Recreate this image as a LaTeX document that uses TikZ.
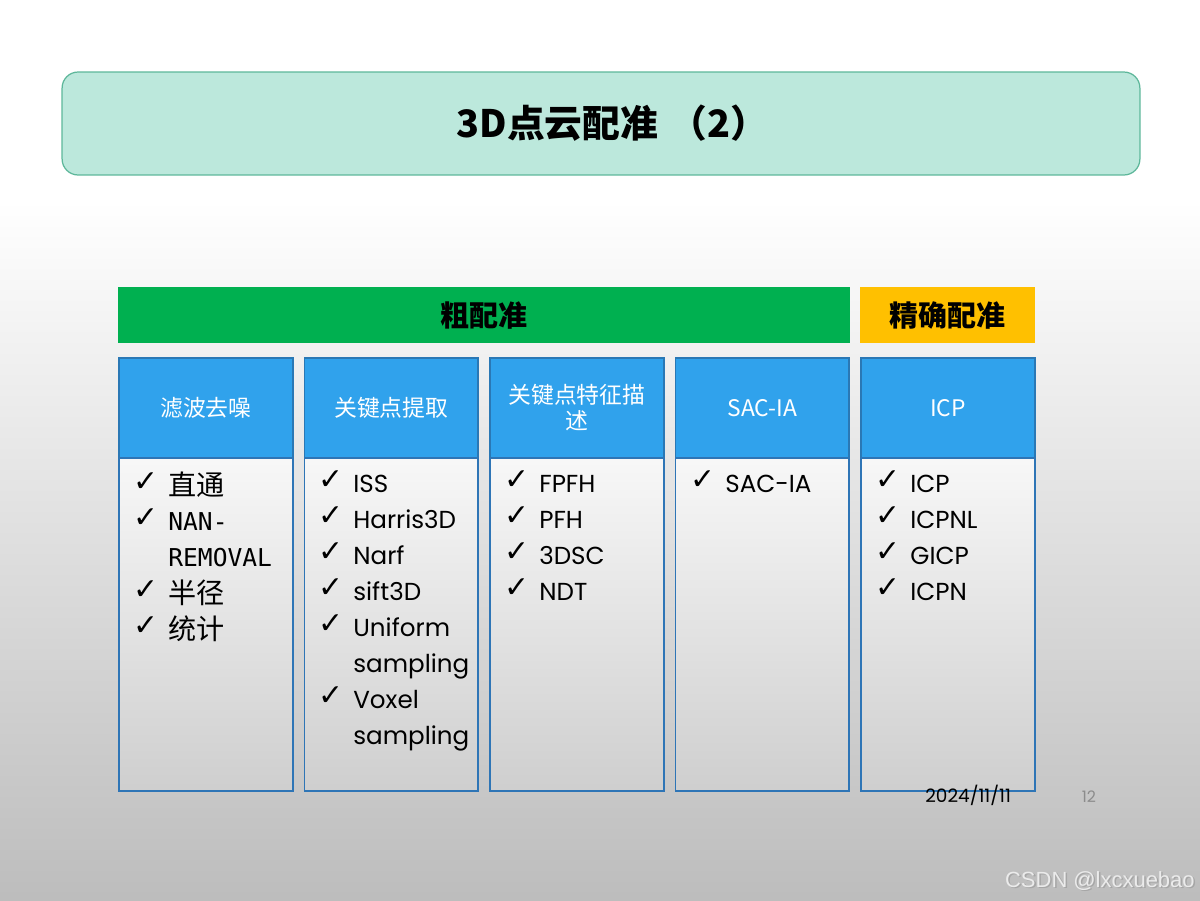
\documentclass[tikz,border=0pt]{standalone}
\usepackage{fontspec}
\setmainfont{Poppins}
\newfontfamily\cjk{Noto Sans CJK SC}
\newfontfamily\symb{DejaVu Sans}
\newfontfamily\mono{DejaVu Sans Mono}
\newfontfamily\lsans{Liberation Sans}
\usetikzlibrary{positioning}
\definecolor{titlefill}{HTML}{BCE8DC}
\definecolor{titledraw}{HTML}{5DB79A}
\definecolor{coarsefill}{HTML}{00B050}
\definecolor{finefill}{HTML}{FFC000}
\definecolor{hdrfill}{HTML}{30A2EC}
\definecolor{hdrdraw}{HTML}{2A78B5}
\definecolor{bodydraw}{HTML}{2E75B6}
\tikzset{
  titlebox/.style={draw=titledraw,fill=titlefill,line width=.7pt,rounded corners=.32cm,
    minimum width=21.56cm,minimum height=2.06cm,font=\cjk\bfseries\fontsize{21.5}{25}\selectfont},
  band/.style={anchor=north west,minimum height=1.12cm,inner sep=0pt,font=\cjk\bfseries\fontsize{16.5}{20}\selectfont},
  hdr/.style={anchor=north west,draw=hdrdraw,fill=hdrfill,line width=1pt,minimum width=3.48cm,
    minimum height=2cm,inner sep=2pt,align=center,text=white,font=\cjk\fontsize{13}{15}\selectfont},
  listbox/.style={anchor=north west,draw=bodydraw,line width=1pt,top color=white!97!black,bottom color=black!19,
    minimum width=3.48cm,minimum height=6.66cm,inner sep=0pt},
  tick/.style={anchor=base west,inner sep=0pt,font=\symb\fontsize{17}{19}\selectfont},
  entry/.style={anchor=base west,inner sep=0pt,font=\fontsize{14}{16}\selectfont},
  cjkentry/.style={anchor=base west,inner sep=0pt,font=\cjk\fontsize{16}{18}\selectfont},
  monoentry/.style={anchor=base west,inner sep=0pt,font=\mono\fontsize{14}{16}\selectfont}
}
\begin{document}
\begin{tikzpicture}[x=.02cm,y=-.02cm]
  % slide background
  \useasboundingbox (0,0) rectangle (1200,900);
  \fill[white] (0,0) rectangle (1200,900);
  \shade[top color=white,bottom color=black!26] (0,200) rectangle (1200,900);
  \node[titlebox] (title) at (601,123.5) {\hspace*{.6em}3D点云配准\hspace{.3em}（2）};
  % bands
  \node[band,fill=coarsefill,minimum width=14.64cm] (coarse) at (118,287) {粗配准};
  \node[band,fill=finefill,minimum width=3.5cm] (fine) at (860,287) {精确配准};
  % headers and lists
  \foreach \i/\t in {1/滤波去噪,2/关键点提取,3/{关键点特征描\\述},4/SAC-IA,5/ICP}{
    \node[hdr] (h\i) at ({118+185.5*(\i-1)},357) {\t};
    \node[listbox] (b\i) at ({118+185.5*(\i-1)},457) {};
  }
  % column 1
  \foreach \n/\t in {1/直通,4/半径,5/统计}
    \node[cjkentry] (e1-\n) at (168,459+36*\n) {\t};
  \foreach \n/\t in {2/NAN-,3/REMOVAL}
    \node[monoentry] (e1-\n) at (168,458+36*\n) {\t};
  \foreach \n in {1,2,4,5}
    \node[tick] (t1-\n) at (133,455+36*\n) {✓};
  % column 2
  \foreach \n/\t in {1/ISS,2/Harris3D,3/Narf,4/sift3D,5/Uniform,6/sampling,7/Voxel,8/sampling}
    \node[entry] (e2-\n) at (353,456+36*\n) {\t};
  \foreach \n in {1,...,5,7}
    \node[tick] (t2-\n) at (318,453+36*\n) {✓};
  % column 3
  \foreach \n/\t in {1/FPFH,2/PFH,3/3DSC,4/NDT}{
    \node[entry] (e3-\n) at (539,456+36*\n) {\t};
    \node[tick] (t3-\n) at (504,453+36*\n) {✓};
  }
  % column 4
  \node[entry] (e4-1) at (725,492) {SAC-IA};
  \node[tick] (t4-1) at (690,489) {✓};
  % column 5
  \foreach \n/\t in {1/ICP,2/ICPNL,3/GICP,4/ICPN}{
    \node[entry] (e5-\n) at (910,456+36*\n) {\t};
    \node[tick] (t5-\n) at (875,453+36*\n) {✓};
  }
  % footer
  \node[anchor=base west,inner sep=0pt,font=\fontsize{10.5}{12}\selectfont] (date) at (925,802) {2024/11/11};
  \node[anchor=base,inner sep=0pt,text=black!45,font=\fontsize{9}{10}\selectfont] (page) at (1089,802) {12};
  \node[anchor=base east,inner sep=0pt,text=black!35,font=\lsans\fontsize{12.5}{14}\selectfont] at (1196.5,888.5) {CSDN @lxcxuebao};
  \node[anchor=base east,inner sep=0pt,text=white!92!black,font=\lsans\fontsize{12.5}{14}\selectfont] (mark) at (1195,887) {CSDN @lxcxuebao};
\end{tikzpicture}
\end{document}
